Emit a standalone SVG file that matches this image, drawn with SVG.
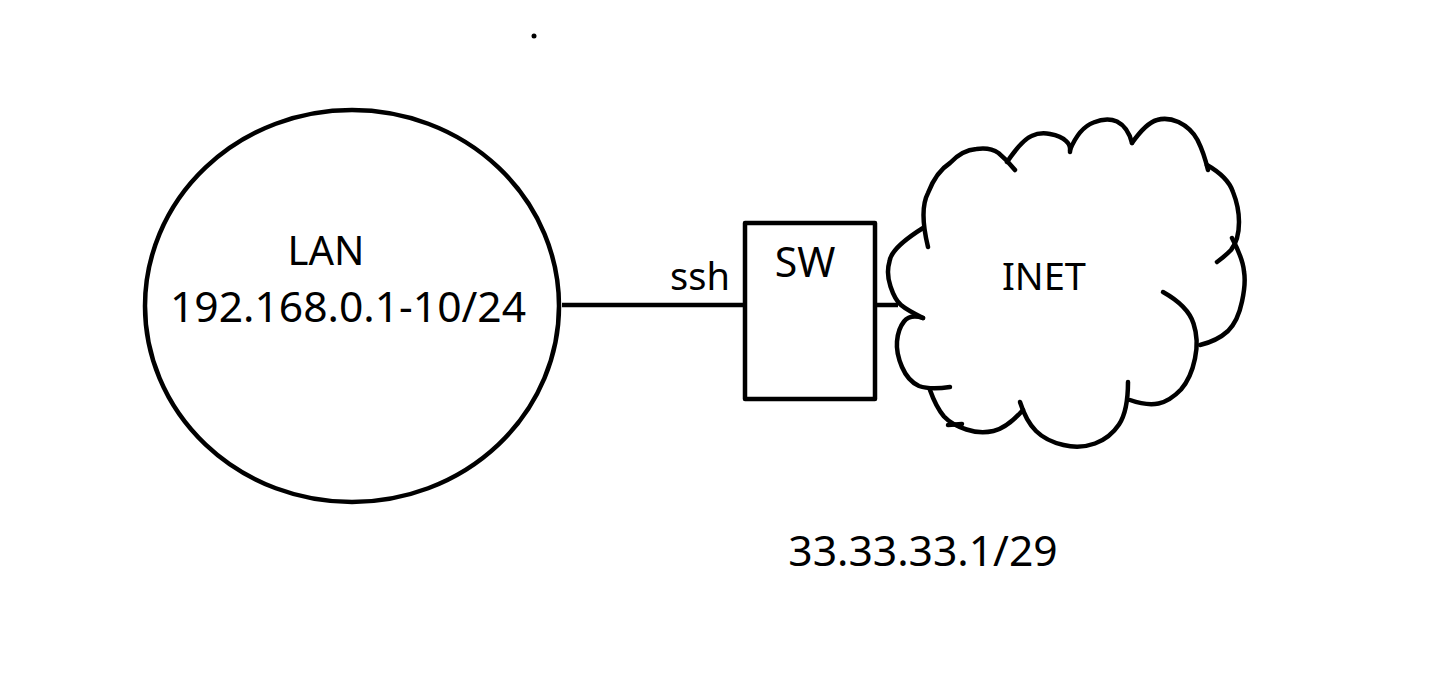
<svg xmlns="http://www.w3.org/2000/svg" width="1433" height="678" viewBox="0 0 1433 678">
<style>
.s{fill:none;stroke:#000;stroke-width:4.5;stroke-linecap:round;stroke-linejoin:round}
.t{font-family:"Noto Sans","Open Sans",sans-serif;fill:#000;text-anchor:middle}
</style>
<rect width="1433" height="678" fill="#fff"/>
<circle cx="534" cy="36" r="2.5" fill="#000"/>
<g id="connectors">
<line class="s" x1="562" y1="305" x2="744" y2="305" style="stroke-linecap:butt"/>
<line class="s" x1="876" y1="305" x2="898" y2="305" style="stroke-linecap:butt"/>
</g>
<g id="lan">
<ellipse class="s" cx="352" cy="306" rx="207" ry="196"/>
<text class="t" x="326" y="265" font-size="40">LAN</text>
<text class="t" x="348" y="322" font-size="42.6">192.168.0.1-10/24</text>
</g>
<g id="ssh-label">
<text class="t" x="700" y="290" font-size="38">ssh</text>
</g>
<g id="sw">
<rect class="s" x="745" y="223" width="130" height="176"/>
<text class="t" x="805" y="277" font-size="41">SW</text>
</g>
<g id="inet">
<path class="s" d="M923 228 Q891 248 889.5 261.5 Q886 273 890.5 286.5 Q895 300 901 305 Q907 310 923 318"/>
<path class="s" d="M928 247 Q919 210 928 193 Q936 172 950 163 Q962 150 976.5 149 Q990 147 998.5 153 Q1007 160 1015 170"/>
<path class="s" d="M1007 162 Q1022 140 1031.5 136 Q1040 132 1050 134 Q1061 136 1066 141 Q1071 145 1070 152"/>
<path class="s" d="M1070 150 Q1079 128 1093.5 122.5 Q1107 117 1117 121.5 Q1128 127 1132 143"/>
<path class="s" d="M1132 143 Q1146 123 1157 120 Q1167 117 1178.5 122 Q1191 128 1197.5 140 Q1204 153 1208 170"/>
<path class="s" d="M1207 165 Q1228 177 1233 192 Q1239 207 1239 222 Q1239 240 1231 250 Q1224 257 1217 262"/>
<path class="s" d="M1232 238 Q1243 259 1244 271.5 Q1246 283 1242 301.5 Q1238 321 1228 331 Q1217 341 1200 345"/>
<path class="s" d="M1163 292 Q1188 306 1193.5 323.5 Q1199 340 1195 358.5 Q1191 378 1181 389.5 Q1170 401 1158.5 403.5 Q1147 406 1130 400"/>
<path class="s" d="M1128 382 Q1128 411 1119 424.5 Q1110 438 1095 443.5 Q1080 449 1063.5 445 Q1046 441 1036 431 Q1026 421 1020 402"/>
<path class="s" d="M1023 410 Q1007 428 993.5 431 Q980 434 966.5 429.5 Q952 425 944 416.5 Q936 407 930 390"/>
<path class="s" d="M948 425 L962 424"/>
<path class="s" d="M950 387 Q930 390 919 386 Q908 381 902 367 Q896 353 897 341.5 Q898 329 904 321.5 Q910 314 923 318"/>
<text class="t" x="1044" y="290" font-size="38">INET</text>
</g>
<g id="ip-label">
<text class="t" x="923" y="566" font-size="42.6">33.33.33.1/29</text>
</g>
</svg>
